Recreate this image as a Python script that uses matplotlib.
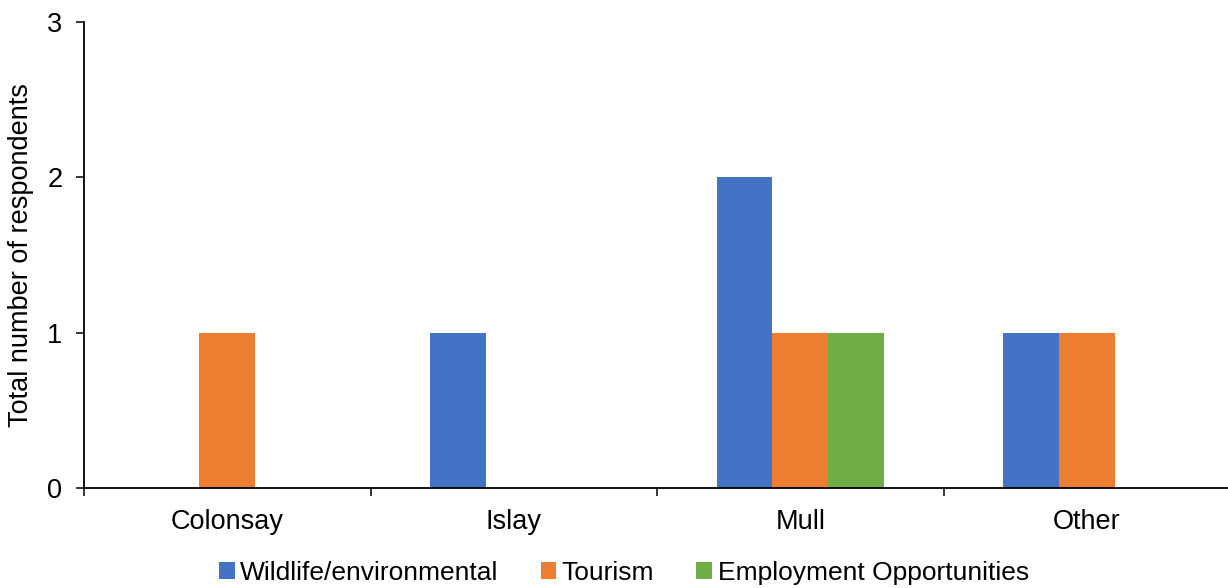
import matplotlib
matplotlib.use("Agg")
import matplotlib.pyplot as plt
import numpy as np

plt.rcParams['font.family'] = ['Liberation Sans', 'DejaVu Sans']

categories = ["Colonsay", "Islay", "Mull", "Other"]
series_names = ["Wildlife/environmental", "Tourism", "Employment Opportunities"]
wildlife = [0, 1, 2, 1]
tourism = [1, 0, 1, 1]
employment = [0, 0, 1, 0]
colors = ["#4472C4", "#ED7D31", "#70AD47"]
yticks = [0, 1, 2, 3]

fig = plt.figure(figsize=(12.28, 5.88), dpi=100)
ax = fig.add_axes([84 / 1228, 0.170, (1230 - 84) / 1228, 0.7926])

x = np.arange(len(categories))
w = 0.194
for i, (vals, name, c) in enumerate(zip([wildlife, tourism, employment], series_names, colors)):
    ax.bar(x + (i - 1) * w, vals, width=w, color=c, label=name, zorder=2)

ax.set_xlim(-0.5, len(categories) - 0.5)
ax.set_ylim(0, 3)
ax.set_yticks(yticks)
ax.set_yticklabels([str(t) for t in yticks], fontsize=19.5)
ax.set_xticks(x)
ax.set_xticklabels(categories, fontsize=19.5)
ax.set_xticks(np.arange(-0.5, len(categories)), minor=True)
ax.tick_params(axis='x', which='major', length=0, pad=15)
ax.tick_params(axis='x', which='minor', length=5.5, width=1.1, direction='out')
ax.tick_params(axis='y', length=5.5, width=1.1, direction='out', pad=10)

for s in ['top', 'right']:
    ax.spines[s].set_visible(False)
for s in ['left', 'bottom']:
    ax.spines[s].set_linewidth(1.3)

ax.set_ylabel("Total number of respondents", fontsize=19.5)
ax.yaxis.set_label_coords((34 - 84) / 1146, 0.5)

fig.legend(loc='lower center', bbox_to_anchor=(0.508, -0.035), ncol=3, frameon=False,
           fontsize=19, handlelength=0.6, handleheight=0.6, handletextpad=0.2,
           columnspacing=1.6)

fig.savefig("out.png", dpi=100)
